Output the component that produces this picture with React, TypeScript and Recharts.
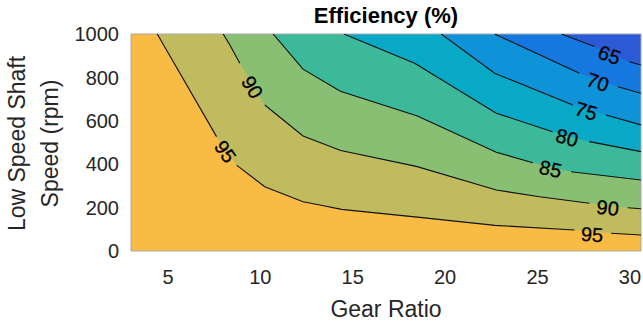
import React from 'react';
import { ComposedChart, Area, Line, Scatter, XAxis, YAxis, ReferenceArea } from 'recharts';

type Pt = { x: number; y: number | null };

// axis ranges and ticks
const gearRange = [3, 30.6];
const speedRange = [0, 1000];
const gearTicks = [5, 10, 15, 20, 25, 30];
const speedTicks = [0, 200, 400, 600, 800, 1000];

// contour lines (y = null leaves the gap for the inline label)
const line65: Pt[] = [
  { x: 26.3, y: 1000 }, { x: 28.08, y: 942 }, { x: 28.9, y: null },
  { x: 29.97, y: 872 }, { x: 30.6, y: 857 },
];
const line70: Pt[] = [
  { x: 22.68, y: 1000 }, { x: 27.27, y: 819 }, { x: 28.26, y: null },
  { x: 29.35, y: 757 }, { x: 30.6, y: 727 },
];
const line75: Pt[] = [
  { x: 19.79, y: 1000 }, { x: 22.68, y: 819 }, { x: 26.91, y: 673 }, { x: 27.63, y: null },
  { x: 28.71, y: 627 }, { x: 30.6, y: 581 },
];
const line80: Pt[] = [
  { x: 14.52, y: 1000 }, { x: 18.35, y: 865 }, { x: 22.77, y: 635 }, { x: 25.81, y: 550 },
  { x: 26.6, y: null }, { x: 27.81, y: 504 }, { x: 30.6, y: 458 },
];
const line85: Pt[] = [
  { x: 10.69, y: 1000 }, { x: 12.31, y: 838 }, { x: 14.33, y: 736 }, { x: 18.5, y: 622 },
  { x: 22.77, y: 455 }, { x: 24.75, y: 407 }, { x: 25.7, y: null },
  { x: 26.82, y: 365 }, { x: 30.6, y: 327 },
];
const line90: Pt[] = [
  { x: 7.99, y: 1000 }, { x: 8.35, y: 949 }, { x: 8.89, y: 865 }, { x: 9.56, y: null },
  { x: 10.24, y: 673 }, { x: 12.31, y: 530 }, { x: 14.35, y: 463 }, { x: 18.44, y: 390 },
  { x: 22.77, y: 281 }, { x: 25.11, y: 250 }, { x: 27.81, y: 220 }, { x: 28.8, y: null },
  { x: 29.88, y: 199 }, { x: 30.6, y: 195 },
];
const line95: Pt[] = [
  { x: 4.42, y: 1000 }, { x: 7.63, y: 527 }, { x: 8.1, y: null },
  { x: 8.71, y: 396 }, { x: 10.24, y: 296 }, { x: 12.31, y: 227 }, { x: 13.22, y: 212 },
  { x: 14.39, y: 192 }, { x: 18.62, y: 155 }, { x: 22.7, y: 118 }, { x: 27.0, y: 97 },
  { x: 27.95, y: null }, { x: 28.98, y: 82 }, { x: 30.6, y: 74 },
];

const contourLines = [line65, line70, line75, line80, line85, line90, line95];

// fill colours: below 65, 65-70, 70-75, 75-80, 80-85, 85-90, 90-95, above 95
const bandColors = [
  '#2b5ad6', '#1478e0', '#0f93d8', '#08a9c6', '#3cb99a', '#89bf73', '#c1bb5f', '#f8bb43',
];

const contourLabels = [
  { x: 28.89, y: 903, text: '65', angle: 20 },
  { x: 28.26, y: 778, text: '70', angle: 19 },
  { x: 27.63, y: 645, text: '75', angle: 17 },
  { x: 26.6, y: 522, text: '80', angle: 15 },
  { x: 25.7, y: 378, text: '85', angle: 13 },
  { x: 28.8, y: 199, text: '90', angle: 7 },
  { x: 27.95, y: 76, text: '95', angle: 4 },
  { x: 9.56, y: 755, text: '90', angle: 59 },
  { x: 8.1, y: 458, text: '95', angle: 55 },
];

const FONT = '"Liberation Sans", Arial, Helvetica, sans-serif';

// region under a contour line, closed along the top edge to the left side
const areaData = (line: Pt[]) => [
  { x: gearRange[0], y: speedRange[1] },
  ...line.filter(p => p.y !== null),
];

const ContourLabel = (props: any) => {
  const { cx, cy, payload } = props;
  return (
    <text
      x={cx}
      y={cy}
      transform={`rotate(${payload.angle} ${cx} ${cy})`}
      textAnchor="middle"
      dominantBaseline="central"
      fontSize={20}
      fontFamily={FONT}
      fill="#000"
      stroke="#000"
      strokeWidth={0.3}
    >
      {payload.text}
    </text>
  );
};

const YTitle = (props: any) => {
  const { viewBox } = props;
  const cy = viewBox.y + viewBox.height / 2 + 1;
  const style = { fontSize: 23, fontFamily: FONT, fill: '#262626' };
  return (
    <g>
      <text transform={`translate(${viewBox.x + 24.5} ${cy}) rotate(-90)`} textAnchor="middle" {...style}>
        Low Speed Shaft
      </text>
      <text transform={`translate(${viewBox.x + 57.5} ${cy}) rotate(-90)`} textAnchor="middle" {...style}>
        Speed (rpm)
      </text>
    </g>
  );
};

const XTitle = (props: any) => {
  const { viewBox } = props;
  return (
    <text
      x={viewBox.x + viewBox.width / 2}
      y={viewBox.y + 66}
      textAnchor="middle"
      fontSize={23}
      fontFamily={FONT}
      fill="#262626"
    >
      Gear Ratio
    </text>
  );
};

const PlotTitle = (props: any) => {
  const { viewBox } = props;
  return (
    <text
      x={viewBox.x + viewBox.width / 2}
      y={viewBox.y - 11}
      textAnchor="middle"
      fontSize={22}
      fontWeight="bold"
      fontFamily={FONT}
      fill="#000"
    >
      Efficiency (%)
    </text>
  );
};

export default function App() {
  return (
    <div style={{ position: 'absolute', left: 0, top: 0 }}>
      <ComposedChart width={643} height={328} margin={{ top: 34, right: 2, bottom: 0, left: 0 }}>
        <XAxis
          dataKey="x"
          type="number"
          domain={gearRange}
          ticks={gearTicks}
          allowDataOverflow
          height={77}
          tickLine={false}
          axisLine={false}
          tickSize={6}
          tickMargin={13}
          tick={{ fontSize: 20, fontFamily: FONT, fill: '#262626' }}
          label={{ content: XTitle }}
        />
        <YAxis
          dataKey="y"
          type="number"
          domain={speedRange}
          ticks={speedTicks}
          allowDataOverflow
          width={131}
          tickLine={false}
          axisLine={false}
          tickSize={6}
          tickMargin={6}
          tick={{ fontSize: 20, fontFamily: FONT, fill: '#262626' }}
          label={{ content: YTitle }}
        />

        <Area
          data={areaData([{ x: gearRange[1], y: speedRange[1] }])}
          dataKey="y"
          type="linear"
          baseValue={0}
          stroke="none"
          fill={bandColors[0]}
          fillOpacity={1}
          dot={false}
          activeDot={false}
          isAnimationActive={false}
        />
        {contourLines.map((line, i) => (
          <Area
            key={`area-${i}`}
            data={areaData(line)}
            dataKey="y"
            type="linear"
            baseValue={0}
            stroke="none"
            fill={bandColors[i + 1]}
            fillOpacity={1}
            dot={false}
            activeDot={false}
            isAnimationActive={false}
          />
        ))}
        {contourLines.map((line, i) => (
          <Line
            key={`line-${i}`}
            data={line}
            dataKey="y"
            type="linear"
            stroke="#111"
            strokeWidth={1.1}
            dot={false}
            activeDot={false}
            isAnimationActive={false}
          />
        ))}
        <Scatter data={contourLabels} dataKey="y" shape={ContourLabel} isAnimationActive={false} />

        <ReferenceArea
          x1={gearRange[0]}
          x2={gearRange[1]}
          y1={speedRange[0]}
          y2={speedRange[1]}
          fill="none"
          stroke="#a8a8a8"
          strokeWidth={1}
          ifOverflow="visible"
          label={{ content: PlotTitle }}
        />
      </ComposedChart>
    </div>
  );
}
